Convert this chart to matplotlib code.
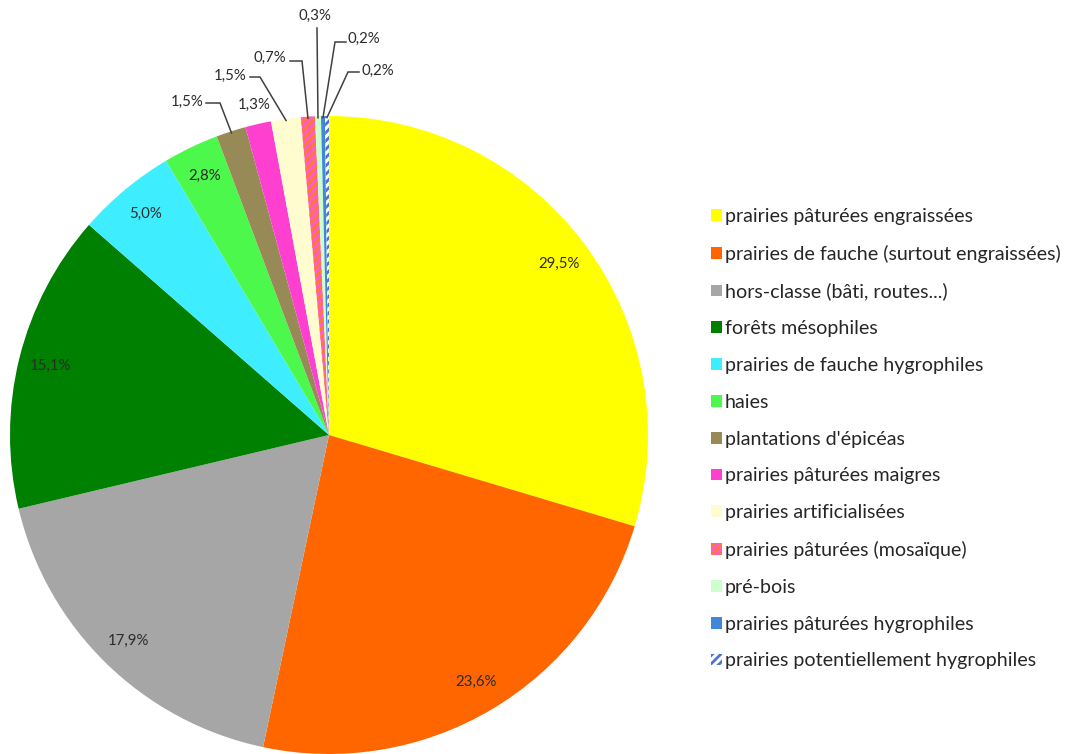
import numpy as np
import matplotlib
matplotlib.use("Agg")
import matplotlib.pyplot as plt

plt.rcParams['font.family'] = ['Lato', 'DejaVu Sans']
plt.rcParams['hatch.linewidth'] = 2.0

categories = [
    "prairies pâturées engraissées",
    "prairies de fauche (surtout engraissées)",
    "hors-classe (bâti, routes...)",
    "forêts mésophiles",
    "prairies de fauche hygrophiles",
    "haies",
    "plantations d'épicéas",
    "prairies pâturées maigres",
    "prairies artificialisées",
    "prairies pâturées (mosaïque)",
    "pré-bois",
    "prairies pâturées hygrophiles",
    "prairies potentiellement hygrophiles",
]
shares = [29.5, 23.6, 17.9, 15.1, 5.0, 2.8, 1.5, 1.3, 1.5, 0.7, 0.3, 0.2, 0.2]
colors = ['#FFFF00', '#FF6600', '#A6A6A6', '#008000', '#3EEEFF', '#4CF84C',
          '#978A57', '#FF3FCF', '#FFFDD0', '#FF5CC8', '#CCFFCC', '#3F88D8', '#FFFFFF']
hatches = [None] * 9 + ['////', None, None, '////']
hatch_colors = [None] * 9 + ['#FF7A30', None, None, '#4A72D8']

fig = plt.figure(figsize=(10.66, 7.54), dpi=100)
W, H = 1066, 754
cx, cy, R = 329, 435, 319
ax = fig.add_axes([(cx - R) / W, (H - cy - R) / H, 2 * R / W, 2 * R / H])

wedges, _ = ax.pie(shares, colors=colors, startangle=90, counterclock=False,
                   wedgeprops=dict(linewidth=0))
for w, h, hc in zip(wedges, hatches, hatch_colors):
    if h:
        w.set_hatch(h)
        w.set_edgecolor(hc)
        w.set_linewidth(0)
ax.set_xlim(-1, 1)
ax.set_ylim(-1, 1)
ax.axis('off')

label_color = '#2B2B2B'
label_size = 10.8


def fmt(v):
    return f"{v:.1f}".replace('.', ',') + '%'


def mid_angle(w):
    return np.deg2rad((w.theta1 + w.theta2) / 2)


def px(x, y):
    # pixel position -> pie data coordinates
    return (x - cx) / R, (cy - y) / R


# labels inside the large slices
for w, v in zip(wedges[:6], shares[:6]):
    a = mid_angle(w)
    ax.text(0.9 * np.cos(a), 0.9 * np.sin(a), fmt(v), ha='center', va='center',
            fontsize=label_size, color=label_color)

# label just outside "prairies pâturées maigres"
a = mid_angle(wedges[7])
ax.text(1.06 * np.cos(a), 1.06 * np.sin(a), fmt(shares[7]), ha='center',
        va='center', fontsize=label_size, color=label_color)

# small slices with leader lines: (index, text position, line start, elbow)
leaders = [
    (6, (187, 102), (206, 103), (220, 103)),
    (8, (230, 76), (250, 77), (260, 77)),
    (9, (270, 58), (290, 61), (302, 61)),
    (10, (315, 16), (317, 28), (317, 28)),
    (11, (364, 39), (346, 42), (335, 42)),
    (12, (378, 71), (359, 72), (348, 72)),
]
for idx, tpos, start, elbow in leaders:
    a = mid_angle(wedges[idx])
    ex, ey = np.cos(a) * 0.995, np.sin(a) * 0.995
    sx, sy = px(*start)
    bx, by = px(*elbow)
    ax.plot([sx, bx, ex], [sy, by, ey], color='#404040', linewidth=1.1,
            clip_on=False, solid_joinstyle='miter')
    tx, ty = px(*tpos)
    ax.text(tx, ty, fmt(shares[idx]), ha='center', va='center',
            fontsize=label_size, color=label_color)

leg = fig.legend(wedges, categories, loc='upper left',
                 bbox_to_anchor=(711 / W, 1 - 208 / H), frameon=False,
                 fontsize=14.1, handlelength=0.55, handleheight=0.55,
                 handletextpad=0.15, labelspacing=1.01, borderpad=0,
                 borderaxespad=0)
for t in leg.get_texts():
    t.set_color('#262626')

fig.savefig('out.png', dpi=100, facecolor='white')
